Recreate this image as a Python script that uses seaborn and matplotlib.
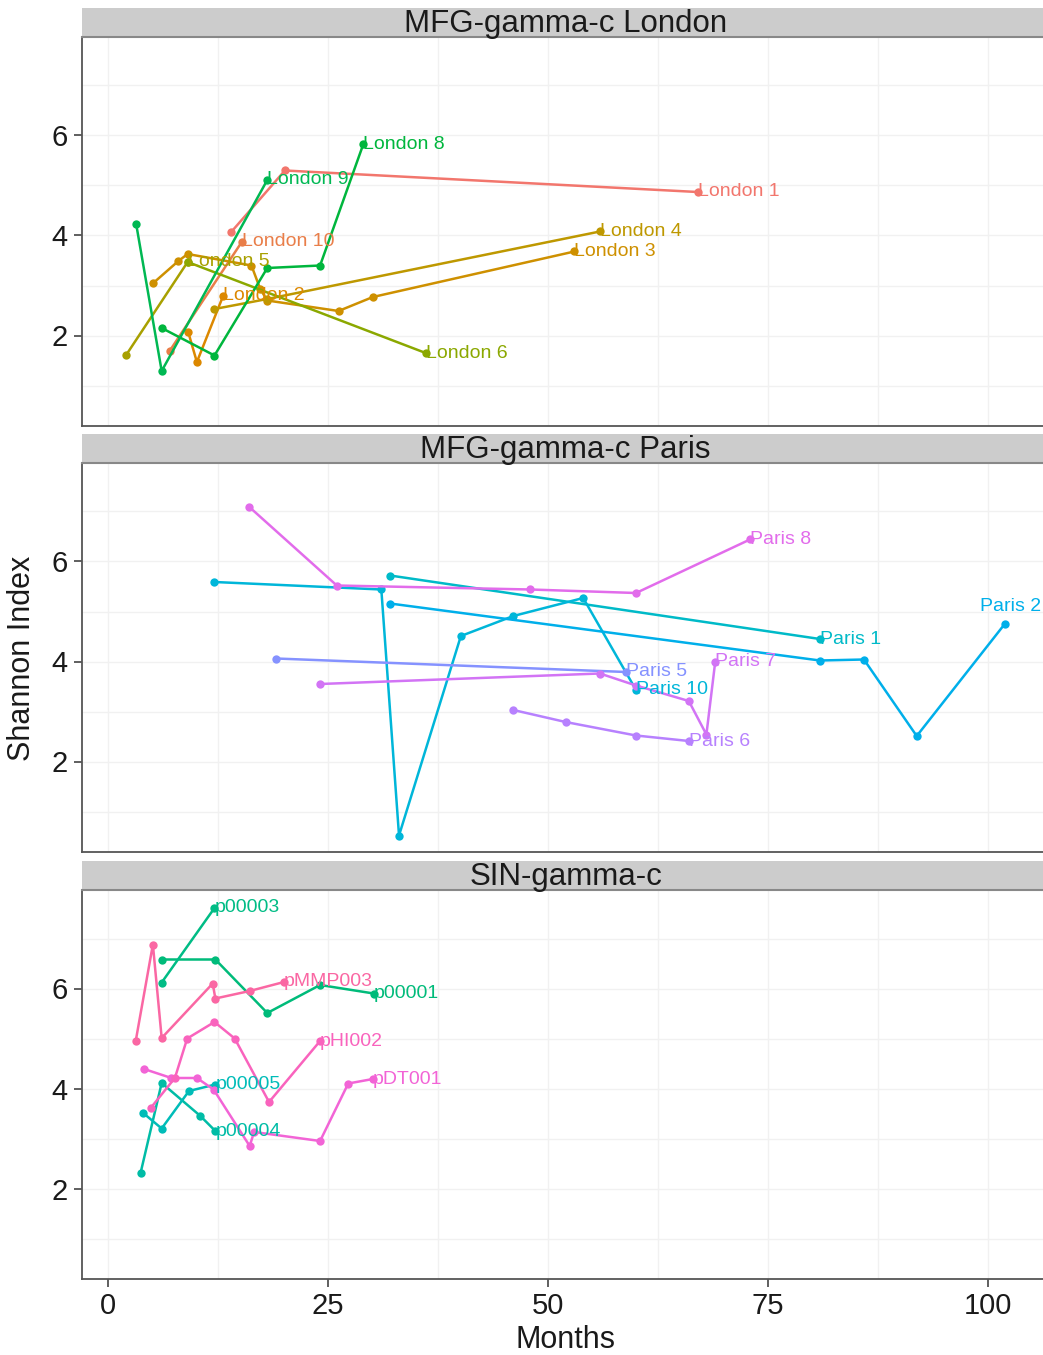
import numpy as np
import pandas as pd
import matplotlib
matplotlib.use("Agg")
import matplotlib.pyplot as plt
import seaborn as sns

sns.set_theme(style="white")
plt.rcParams["font.family"] = ["Liberation Sans", "DejaVu Sans"]

# ---------------- data ----------------
london_ids = ["London 1", "London 10", "London 2", "London 3", "London 4",
              "London 5", "London 6", "London 8", "London 9"]
london_months = [
    [14.0, 20.1, 67.0],
    [7.0, 15.2],
    [9.1, 10.1, 13.1],
    [5.15, 8.0, 9.05, 16.3, 17.3, 18.1, 26.2, 30.1, 53.0],
    [12.1, 18.1, 55.9],
    [2.1, 9.05],
    [9.05, 36.1],
    [6.1, 12.1, 18.1, 24.1, 29.0],
    [3.2, 6.1, 18.1],
]
london_values = [
    [4.07, 5.30, 4.87],
    [1.69, 3.87],
    [2.08, 1.47, 2.80],
    [3.05, 3.49, 3.63, 3.40, 2.93, 2.70, 2.49, 2.77, 3.68],
    [2.53, 2.73, 4.08],
    [1.62, 3.47],
    [3.47, 1.65],
    [2.15, 1.60, 3.35, 3.40, 5.82],
    [4.23, 1.29, 5.11],
]

paris_ids = ["Paris 1", "Paris 10", "Paris 2", "Paris 5", "Paris 6", "Paris 7", "Paris 8"]
paris_months = [
    [32.05, 80.9],
    [12.1, 31.06, 33.07, 40.1, 46.06, 54.0, 59.97],
    [32.05, 80.9, 85.9, 91.9, 101.9],
    [19.1, 58.9],
    [46.06, 52.0, 60.0, 66.0],
    [24.1, 55.9, 60.0, 66.0, 68.0, 69.0],
    [16.06, 26.0, 48.0, 60.0, 72.95],
]
paris_values = [
    [5.72, 4.45],
    [5.59, 5.44, 0.52, 4.51, 4.91, 5.27, 3.44],
    [5.16, 4.02, 4.04, 2.51, 4.75],
    [4.06, 3.79],
    [3.03, 2.79, 2.52, 2.41],
    [3.55, 3.76, 3.52, 3.21, 2.54, 3.99],
    [7.09, 5.52, 5.44, 5.37, 6.44],
]

sin_ids = ["p00001", "p00003", "p00004", "p00005", "pDT001", "pHI002", "pMMP003"]
sin_months = [
    [6.1, 12.2, 18.1, 24.1, 30.2],
    [6.1, 12.1],
    [3.7, 6.1, 10.5, 12.2],
    [4.0, 6.1, 9.2, 12.2],
    [4.1, 7.2, 10.1, 12.0, 16.1, 16.6, 24.1, 27.3, 30.1],
    [4.85, 7.6, 9.0, 12.1, 14.4, 18.3, 24.1],
    [3.15, 5.1, 6.1, 11.9, 12.2, 16.1, 20.0],
]
sin_values = [
    [6.58, 6.58, 5.51, 6.07, 5.90],
    [6.12, 7.61],
    [2.31, 4.11, 3.45, 3.15],
    [3.51, 3.20, 3.95, 4.08],
    [4.39, 4.21, 4.21, 3.98, 2.85, 3.13, 2.95, 4.10, 4.19],
    [3.61, 4.21, 5.00, 5.33, 5.00, 3.73, 4.95],
    [4.95, 6.88, 5.01, 6.10, 5.80, 5.95, 6.13],
]

panel_titles = ["MFG-gamma-c London", "MFG-gamma-c Paris", "SIN-gamma-c"]
x_ticks = [0, 25, 50, 75, 100]
y_ticks = [2, 4, 6]

# HCL hue (degrees) of each series colour
series_hue = {
    "London 1": 15, "London 10": 28, "London 2": 42, "London 3": 55, "London 4": 68,
    "London 5": 82, "London 6": 98, "London 8": 135, "London 9": 142,
    "p00001": 158, "p00003": 163, "p00004": 180, "p00005": 190,
    "Paris 1": 200, "Paris 10": 212, "Paris 2": 226, "Paris 5": 263, "Paris 6": 280,
    "Paris 7": 293, "Paris 8": 304,
    "pDT001": 320, "pHI002": 336, "pMMP003": 350,
}


def hcl_hex(h, c=95.0, l=64.0):
    Xn, Yn, Zn = 95.047, 100.0, 108.883
    hr = np.deg2rad(h)
    U, V = c * np.cos(hr), c * np.sin(hr)
    Y = Yn * ((l + 16) / 116) ** 3 if l > 8 else Yn * l / 903.3
    t = Xn + 15 * Yn + 3 * Zn
    un, vn = 4 * Xn / t, 9 * Yn / t
    u = U / (13 * l) + un
    v = V / (13 * l) + vn
    X = 9.0 * Y * u / (4 * v)
    Z = -X / 3 - 5 * Y + 3 * Y / v
    X, Y, Z = X / 100, Y / 100, Z / 100
    r = 3.240479 * X - 1.537150 * Y - 0.498535 * Z
    g = -0.969256 * X + 1.875992 * Y + 0.041556 * Z
    b = 0.055648 * X - 0.204043 * Y + 1.057311 * Z

    def gam(x):
        x = 1.055 * max(x, 0) ** (1 / 2.4) - 0.055 if x > 0.00304 else 12.92 * x
        return min(max(x, 0), 1)

    return "#%02x%02x%02x" % tuple(int(round(gam(k) * 255)) for k in (r, g, b))


palette = {k: hcl_hex(h) for k, h in series_hue.items()}


def make_df(ids, months, values):
    rows = []
    for i, m, v in zip(ids, months, values):
        for k, (mm, vv) in enumerate(zip(m, v)):
            rows.append((i, k, mm, vv))
    return pd.DataFrame(rows, columns=["id", "order", "Months", "Shannon"])


frames = [make_df(london_ids, london_months, london_values),
          make_df(paris_ids, paris_months, paris_values),
          make_df(sin_ids, sin_months, sin_values)]

# ---------------- layout ----------------
W, H = 1043, 1355
fig = plt.figure(figsize=(W / 100, H / 100), dpi=100)
fig.patch.set_facecolor("white")

x0_px, px_per_month = 108.0, 8.8
xlim = (-3.0, 107.0)
right_px = x0_px + xlim[1] * px_per_month
left_px = x0_px + xlim[0] * px_per_month
ylim = (0.19, 7.97)
panels_px = [(37, 426), (463, 852), (890, 1279)]
strip_h = 29

for idx, ((top, bot), df, title) in enumerate(zip(panels_px, frames, panel_titles)):
    ax = fig.add_axes([left_px / W, 1 - bot / H, (right_px - left_px) / W, (bot - top) / H])
    ax.set_facecolor("white")
    ax.set_xlim(*xlim)
    ax.set_ylim(*ylim)
    ax.set_xticks(x_ticks)
    ax.set_yticks(y_ticks)
    ax.set_xticks(np.arange(12.5, 105, 25), minor=True)
    ax.set_yticks([1, 3, 5, 7], minor=True)
    ax.grid(True, which="both", color="#f1f1f1", linewidth=1.0)
    ax.set_axisbelow(True)

    sns.lineplot(data=df, x="Months", y="Shannon", hue="id", units="id",
                 palette=palette, estimator=None, sort=False, legend=False,
                 marker="o", markersize=6, markeredgewidth=0, linewidth=1.8, ax=ax)

    for lab, g in df.groupby("id", sort=False):
        last = g.sort_values("order").iloc[-1]
        if lab == "Paris 2":
            ax.annotate(lab, (last["Months"], last["Shannon"]), xytext=(6, 9),
                        textcoords="offset pixels", ha="center", va="bottom",
                        color=palette[lab], fontsize=14)
        else:
            ax.text(last["Months"], last["Shannon"], lab, ha="left", va="center",
                    color=palette[lab], fontsize=14)

    ax.set_xlabel("")
    ax.set_ylabel("")
    for s in ["top", "right"]:
        ax.spines[s].set_visible(False)
    for s in ["left", "bottom"]:
        ax.spines[s].set_color("#555555")
        ax.spines[s].set_linewidth(1.3)
    ax.tick_params(axis="y", which="major", left=True, length=6, width=1.2,
                   color="#444444", labelsize=21, labelcolor="#1a1a1a", pad=4)
    ax.tick_params(axis="y", which="minor", left=False)
    ax.tick_params(axis="x", which="minor", bottom=False)
    if idx == 2:
        ax.tick_params(axis="x", which="major", bottom=True, length=6, width=1.2,
                       color="#444444", labelsize=21, labelcolor="#1a1a1a", pad=3)
    else:
        ax.tick_params(axis="x", which="major", bottom=False, labelbottom=False)

    # facet strip
    sax = fig.add_axes([left_px / W, 1 - top / H, (right_px - left_px) / W, strip_h / H])
    sax.set_facecolor("#cccccc")
    sax.set_xticks([])
    sax.set_yticks([])
    for s in sax.spines.values():
        s.set_visible(False)
    sax.spines["bottom"].set_visible(True)
    sax.spines["bottom"].set_color("#888888")
    sax.spines["bottom"].set_linewidth(1.5)
    sax.text(0.5, 0.45, title, transform=sax.transAxes, ha="center", va="center",
             fontsize=22.5, color="#1a1a1a")

fig.text(565 / W, 1 - 1340 / H, "Months", ha="center", va="center", fontsize=22, color="#1a1a1a")
fig.text(22 / W, 1 - 658 / H, "Shannon Index", ha="center", va="center", rotation=90,
         fontsize=22, color="#1a1a1a")

fig.savefig("out.png", dpi=100, facecolor="white")
